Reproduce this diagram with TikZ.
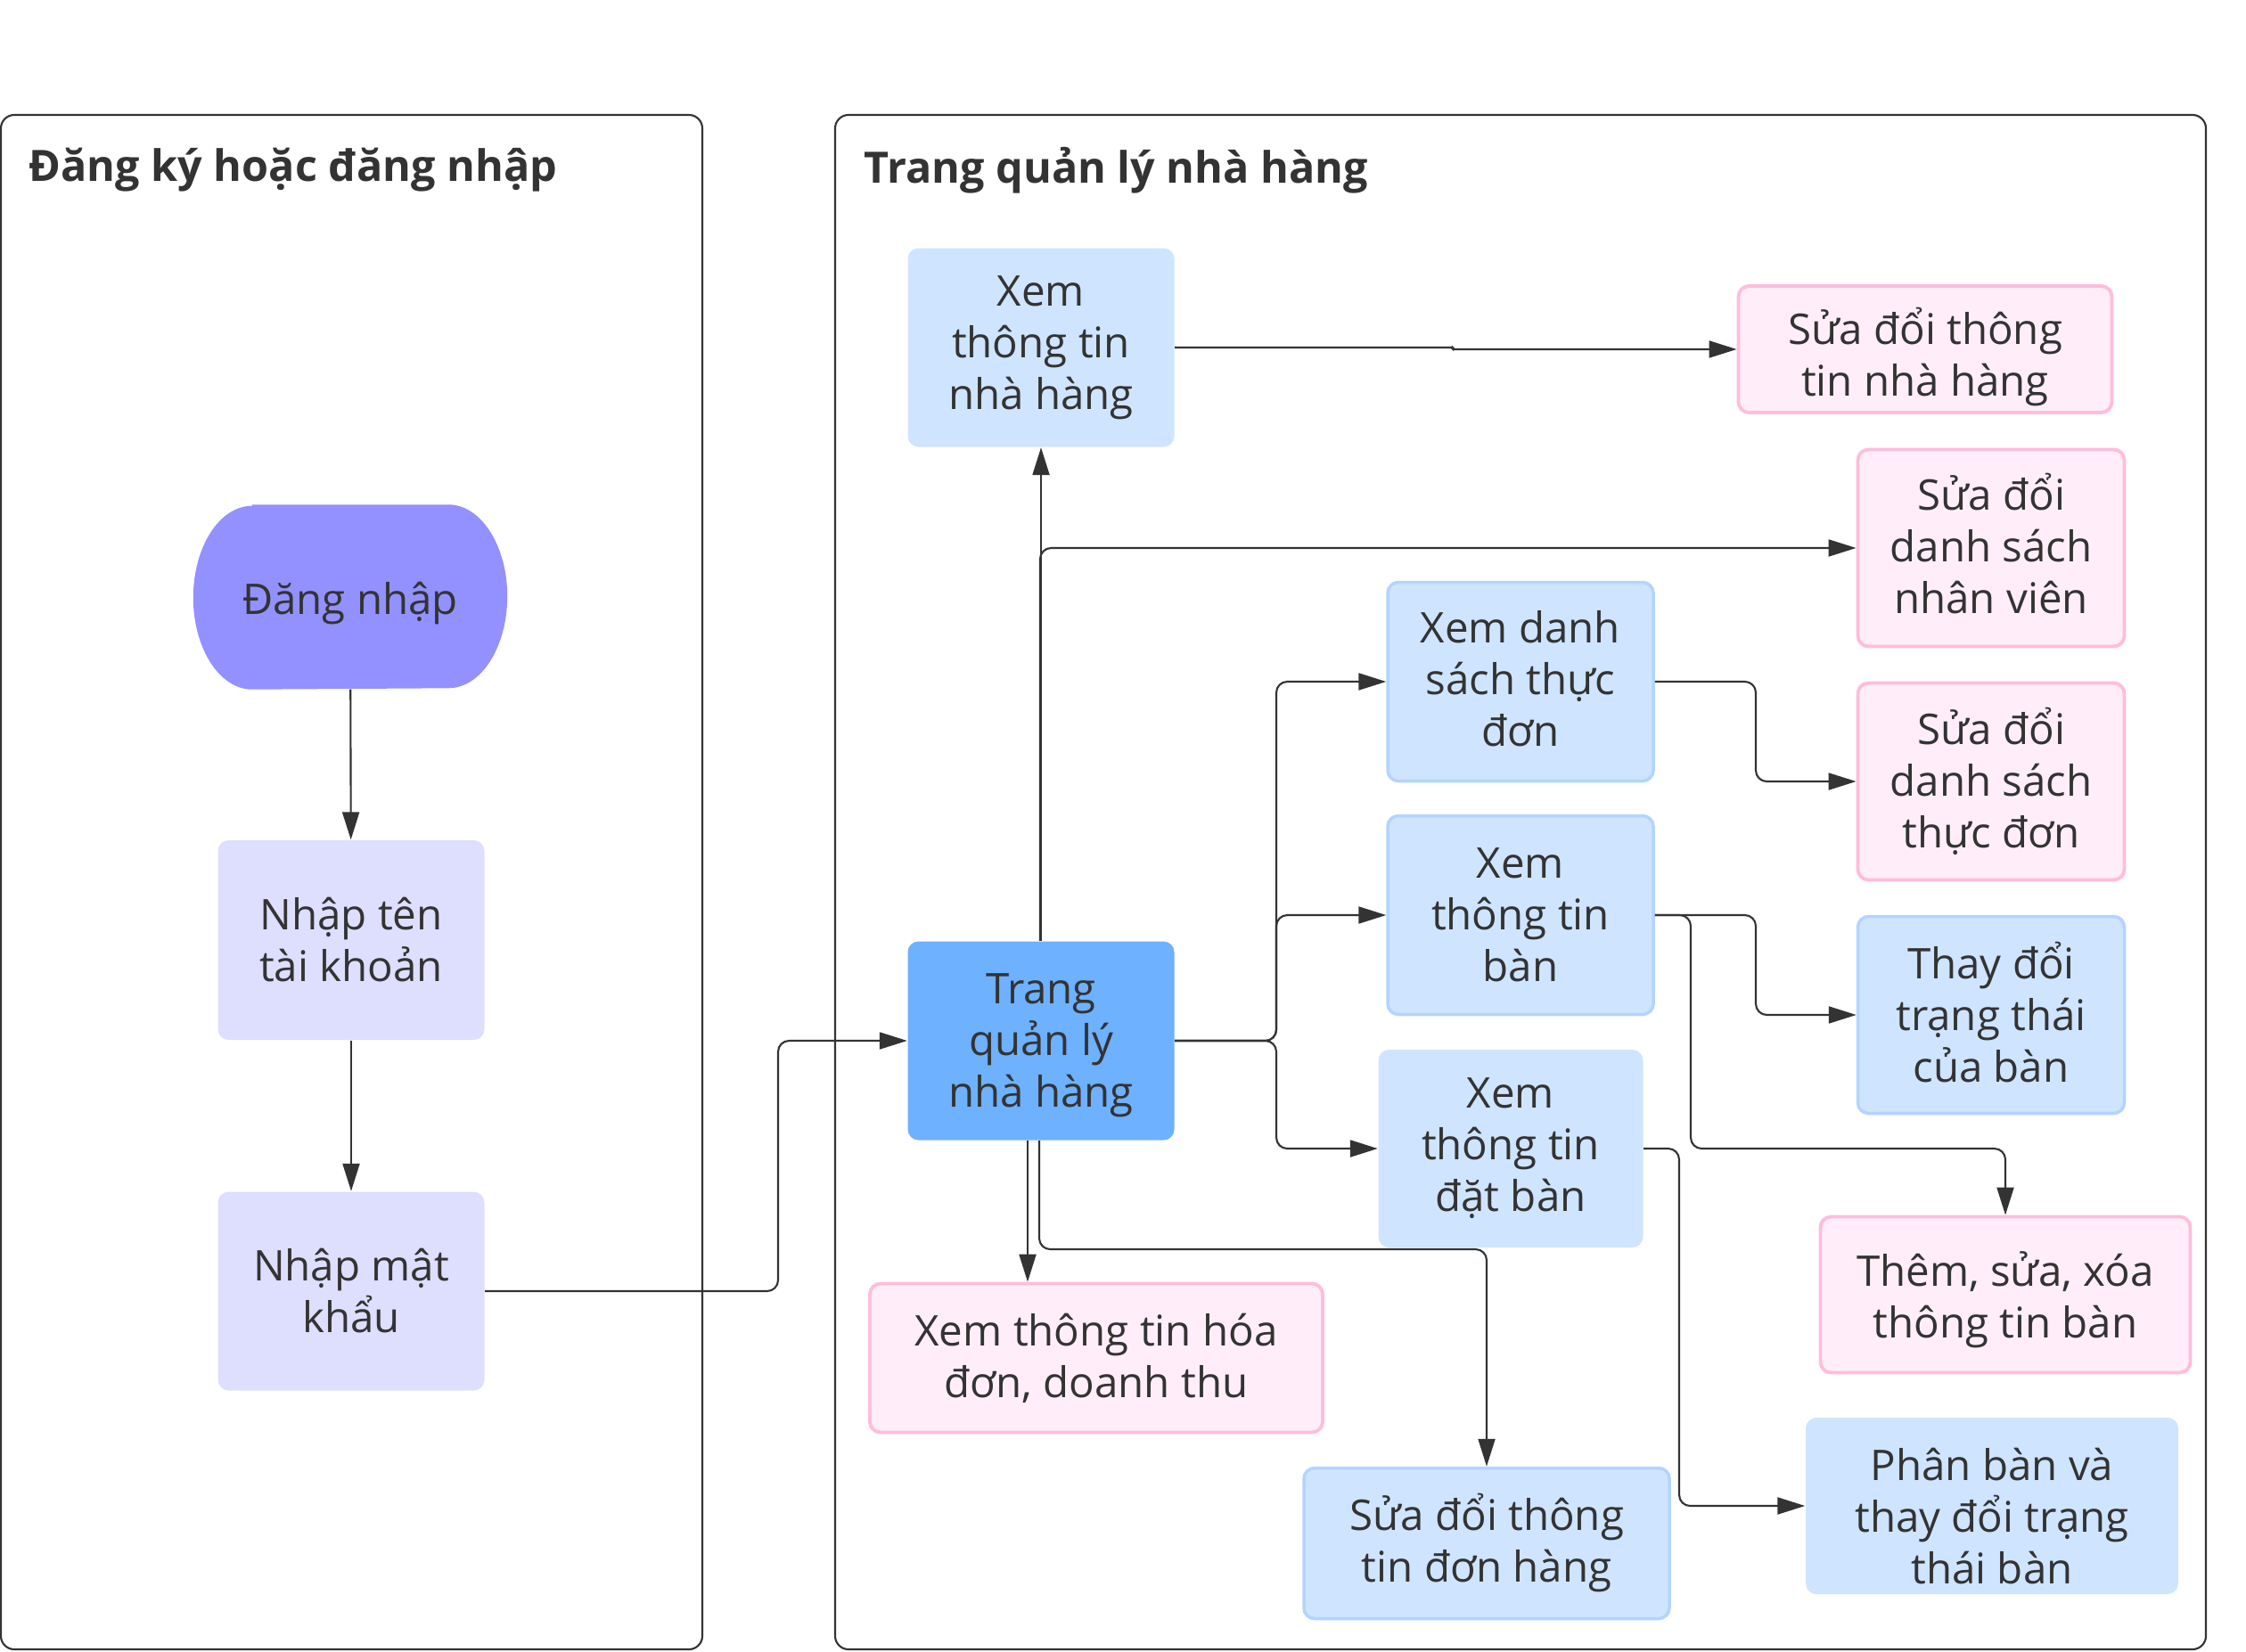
\documentclass[tikz,border=0pt]{standalone}
\usepackage{fontspec}
\setmainfont{Open Sans}
\usetikzlibrary{arrows.meta,backgrounds}

\definecolor{ink}{HTML}{333333}
\definecolor{startfill}{HTML}{9391FF}
\definecolor{loginfill}{HTML}{DEDEFF}
\definecolor{mainfill}{HTML}{6DB1FF}
\definecolor{viewfill}{HTML}{CFE4FF}
\definecolor{viewline}{HTML}{B3D4FF}
\definecolor{editfill}{HTML}{FFEEF9}
\definecolor{editline}{HTML}{FFBDDB}

\newcommand\padtop[1]{\rule{0pt}{#1}}

\tikzset{
  lane/.style={draw=ink, line width=0.6pt, rounded corners=0.15cm},
  lanetitle/.style={anchor=west, inner sep=0pt, text=ink, font=\fontsize{13.8}{17}\selectfont\bfseries},
  box/.style={rectangle, rounded corners=0.12cm, align=center, text=ink, inner sep=0pt,
    font=\fontsize{13.5}{16.5}\selectfont},
  loginbox/.style={box, fill=loginfill},
  mainbox/.style={box, fill=mainfill},
  viewbox/.style={box, fill=viewfill},
  viewedge/.style={box, fill=viewfill, draw=viewline, line width=1pt},
  editbox/.style={box, fill=editfill, draw=editline, line width=1.1pt},
  textdown/.style={execute at begin node={\rule{0pt}{#1}}},
  textup/.style={execute at end node={\rule[-#1]{0pt}{#1}}},
  link/.style={draw=ink, line width=0.6pt, rounded corners=3.5pt,
    -{Triangle[length=0.31cm,width=0.19cm]}},
}

\begin{document}
\begin{tikzpicture}
\useasboundingbox (0,0) rectangle (25.2,-18.53);

% swimlanes
\draw[lane] (0.01,-1.29) rectangle (7.88,-18.51);
\draw[lane] (9.37,-1.29) rectangle (24.75,-18.51);
\node[lanetitle] (logintitle) at (0.32,-1.91) {Đăng ký hoặc đăng nhập};
\node[lanetitle] (admintitle) at (9.69,-1.91) {Trang quản lý nhà hàng};

% login lane
\node[box, textdown=14.4pt, minimum width=3.51cm, minimum height=2.06cm] (dangnhap) at (3.93,-6.70) {Đăng nhập};
\begin{scope}[on background layer]
  \fill[startfill] ([xshift=0.66cm]dangnhap.north west) -- ([xshift=-0.66cm]dangnhap.north east)
    arc[start angle=90, end angle=-90, x radius=0.66cm, y radius=1.03cm]
    -- ([xshift=0.66cm]dangnhap.south west)
    arc[start angle=270, end angle=90, x radius=0.66cm, y radius=1.03cm] -- cycle;
\end{scope}
\node[loginbox, minimum width=2.99cm, minimum height=2.24cm] (tentk) at (3.94,-10.55) {Nhập tên\\tài khoản};
\node[loginbox, minimum width=2.99cm, minimum height=2.23cm] (matkhau) at (3.94,-14.49) {Nhập mật\\khẩu};

% admin lane
\node[mainbox, minimum width=2.99cm, minimum height=2.23cm] (trang) at (11.68,-11.68) {\padtop{12.6pt}Trang\\quản lý\\nhà hàng};
\node[viewbox, minimum width=2.99cm, minimum height=2.23cm] (xemnh) at (11.68,-3.90) {Xem\\thông tin\\nhà hàng};
\node[editbox, minimum width=4.19cm, minimum height=1.42cm] (suanh) at (21.60,-3.92) {\padtop{16.5pt}Sửa đổi thông\\tin nhà hàng};
\node[editbox, textup=2.7pt, minimum width=2.99cm, minimum height=2.21cm] (suanv) at (22.34,-6.15) {Sửa đổi\\danh sách\\nhân viên};
\node[viewedge, textup=1.8pt, minimum width=2.98cm, minimum height=2.23cm] (xemtd) at (17.06,-7.65) {Xem danh\\sách thực\\đơn};
\node[editbox, minimum width=2.99cm, minimum height=2.21cm] (suatd) at (22.34,-8.77) {Sửa đổi\\danh sách\\thực đơn};
\node[viewedge, minimum width=2.98cm, minimum height=2.23cm] (xemban) at (17.06,-10.27) {Xem\\thông tin\\bàn};
\node[viewedge, textup=1.8pt, minimum width=2.99cm, minimum height=2.21cm] (thaytt) at (22.34,-11.39) {Thay đổi\\trạng thái\\của bàn};
\node[viewbox, minimum width=2.97cm, minimum height=2.22cm] (xemdb) at (16.95,-12.89) {Xem\\thông tin\\đặt bàn};
\node[editbox, minimum width=4.15cm, minimum height=1.75cm] (themban) at (22.50,-14.53) {\padtop{14.5pt}Thêm, sửa, xóa\\thông tin bàn};
\node[editbox, minimum width=5.08cm, minimum height=1.67cm] (hoadon) at (12.30,-15.24) {Xem thông tin hóa\\đơn, doanh thu};
\node[viewedge, minimum width=4.10cm, minimum height=1.69cm] (donhang) at (16.68,-17.32) {Sửa đổi thông\\tin đơn hàng};
\node[viewbox, minimum width=4.18cm, minimum height=1.98cm] (phanban) at (22.35,-16.90) {\padtop{17pt}Phân bàn và\\thay đổi trạng\\thái bàn};

% bends
\coordinate (loginbend) at (8.73,-14.49);
\coordinate (nhjog) at (16.30,-3.92);
\coordinate (mainsplit) at (14.32,-11.68);
\coordinate (dhturn) at (11.66,-14.02);
\coordinate (tdsplit) at (19.70,-7.65);
\coordinate (bansplit) at (19.70,-10.27);
\coordinate (bandrop) at (18.97,-12.89);
\coordinate (dbdrop) at (18.84,-12.89);

% connectors
\draw[link] (dangnhap) -- (tentk);
\draw[link] (tentk) -- (matkhau);
\draw[link] (matkhau.east) -- (loginbend) |- (trang.west);
\draw[link] (trang.north) -- (xemnh.south);
\draw[link, rounded corners=0.5pt] (xemnh.east) -| (nhjog) -- (suanh.west);
\draw[link] ([xshift=-0.01cm]trang.north) |- (suanv.west);
\draw[link] (trang.east) -- (mainsplit) |- (xemtd.west);
\draw[link] (trang.east) -- (mainsplit) |- (xemban.west);
\draw[link] (trang.east) -- (mainsplit) |- (xemdb.west);
\draw[link] ([xshift=-0.15cm]trang.south) -- ([xshift=-0.15cm]trang.south |- hoadon.north);
\draw[link] ([xshift=-0.02cm]trang.south) -- (dhturn) -| (donhang.north);
\draw[link] (xemtd.east) -- (tdsplit) |- (suatd.west);
\draw[link] (xemban.east) -- (bansplit) |- (thaytt.west);
\draw[link] (xemban.east) -| (bandrop) -| (themban.north);
\draw[link] (xemdb.east) -| (dbdrop |- phanban.west) -- (phanban.west);
\end{tikzpicture}
\end{document}
